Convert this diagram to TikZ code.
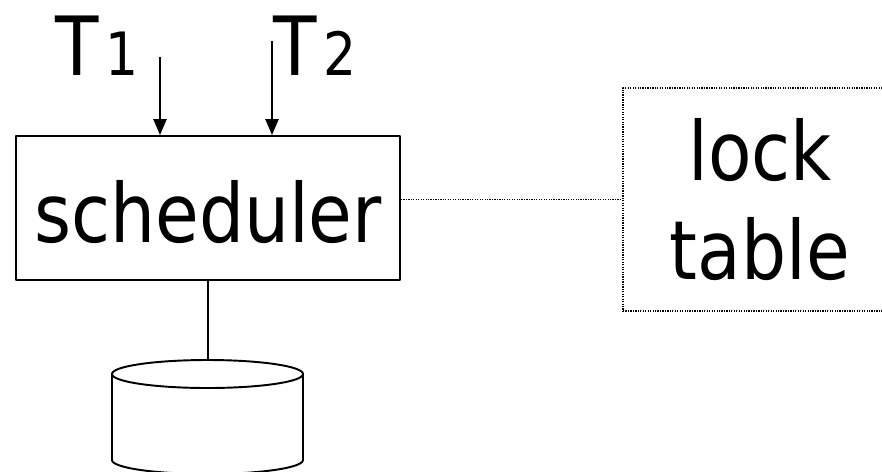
\documentclass[tikz,border=0pt]{standalone}
\usepackage{fontspec}
\setmainfont{DejaVu Sans}[FakeStretch=0.87]
\usetikzlibrary{arrows.meta}
\tikzset{
  bigtext/.style={font=\fontsize{46.5}{56.7}\selectfont},
  solidbox/.style={draw, line width=1.1pt, inner sep=0pt},
  dotline/.style={line width=1pt, dash pattern=on 0.7pt off 0.7pt},
}
\newcommand{\tindex}[1]{\hspace{4pt}{\fontsize{34}{34}\selectfont #1}}

\begin{document}
\begin{tikzpicture}[x=0.02cm, y=-0.02cm, line join=round, bigtext,
    >={Triangle[width=7.4pt, length=9pt]}]
  \useasboundingbox (0,0) rectangle (882,471);

  % scheduler and lock table
  \node[solidbox, minimum width=7.68cm, minimum height=2.88cm, text height=1.4cm] (sched) at (208,208) {scheduler};
  \node[dotline, draw, inner sep=0pt, align=center, minimum width=5.48cm, minimum height=4.46cm] (lock) at (760,199.5) {lock\\table};
  \draw[dotline] (lock.west -| sched.east) -- (lock.west);

  % transactions
  \node[anchor=base west, inner sep=0pt] (t1) at (55,75) {T\tindex{1}};
  \node[anchor=base west, inner sep=0pt] (t2) at (273,75) {T\tindex{2}};
  \coordinate (a1) at (160,57);
  \coordinate (a2) at (272,41);
  \draw[->, line width=1.1pt] (a1) -- (a1 |- sched.north);
  \draw[->, line width=1.1pt] (a2) -- (a2 |- sched.north);

  % database
  \coordinate (db) at (208,360);
  \draw[line width=1.1pt] (207.5,374) ellipse [x radius=95.5, y radius=14];
  \draw[line width=1.1pt] (112,374) -- (112,460) arc[start angle=180, end angle=0, x radius=95.5, y radius=14] -- (303,374);
  \draw[line width=1.1pt] (sched.south) -- (db);
\end{tikzpicture}
\end{document}
